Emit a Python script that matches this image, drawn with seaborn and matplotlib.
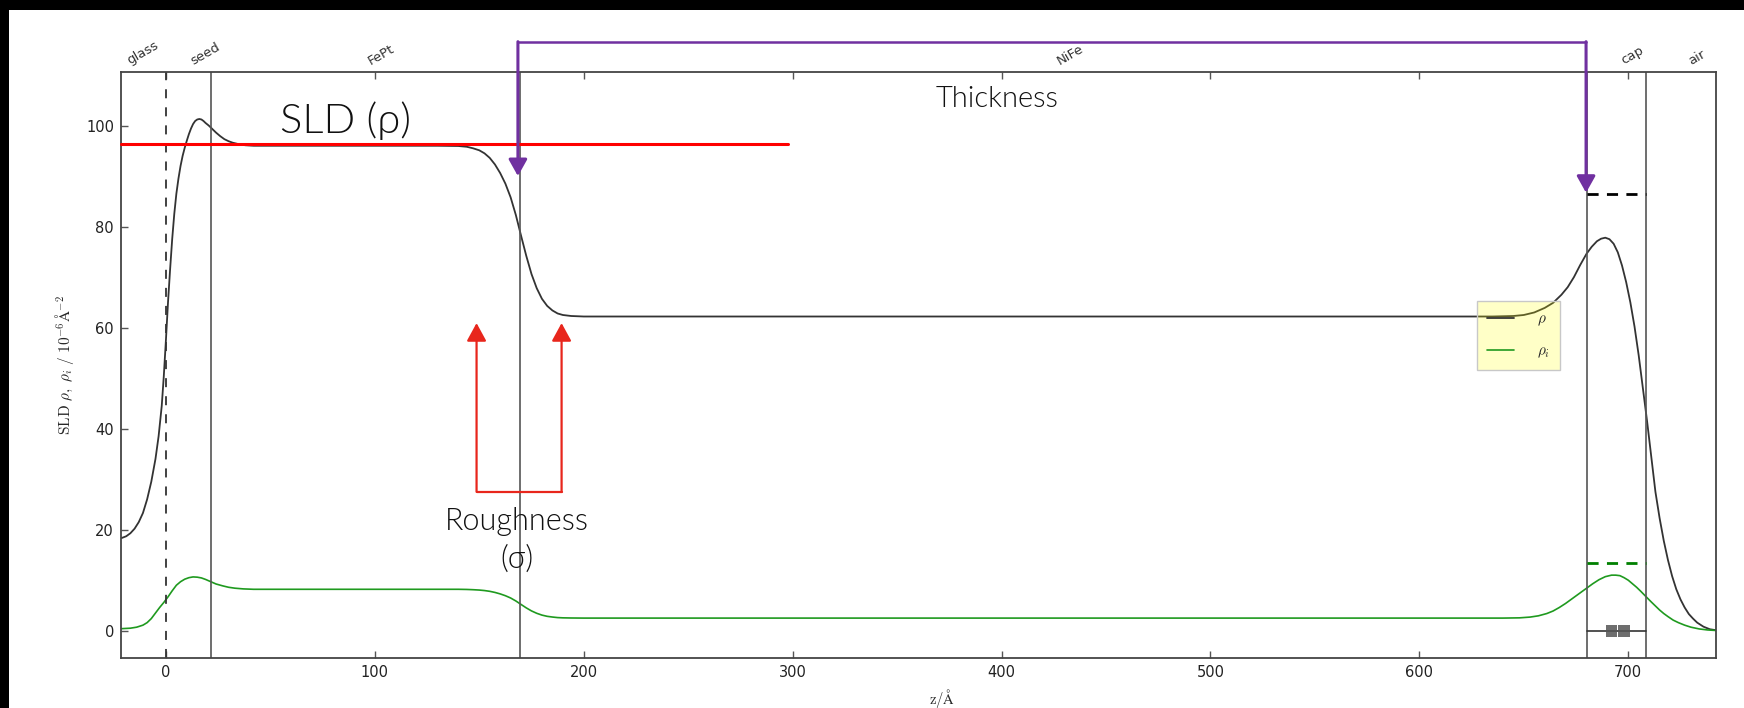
import numpy as np
import matplotlib
matplotlib.use("Agg")
import matplotlib.pyplot as plt
from matplotlib.patches import Rectangle
import seaborn as sns

# ---- data ----
layer_names = ['glass', 'seed', 'FePt', 'NiFe', 'cap', 'air']
layer_label_x = [-11, 19, 103, 433, 702, 733]
interface_dashed = [0]
interface_solid = [21.5, 169.7, 680.2, 708.6]

rho_z = [-21.5, -19, -17, -15, -13, -11, -9, -7, -5, -3.5, -2, -1, 0, 1, 2, 3, 4, 5, 6, 7,
         8, 9, 10, 11, 12, 13, 14, 15, 16, 17, 18, 19, 20.5, 22, 24, 26, 28, 30, 32, 35,
         38, 42, 130, 140, 144, 147, 150, 152.5, 155, 157.5, 160, 162.5, 165, 167.5, 170,
         172.5, 175, 177.5, 180, 182.5, 185, 187.5, 190, 194, 200, 635, 645, 650, 655,
         660, 664, 668, 671, 674, 677, 680, 682.5, 685, 687, 689, 691, 693, 695, 697, 699,
         701, 703, 705, 707, 709, 711, 713, 715, 717, 719, 721, 723, 725, 727, 729, 731,
         733, 736, 739, 742]
rho = [18.3, 18.7, 19.3, 20.2, 21.5, 23.3, 26.0, 29.5, 34.0, 38.5, 44.5, 50.5, 57.5, 65.0,
       71.5, 77.5, 82.5, 86.5, 89.5, 92.0, 94.0, 95.6, 97.0, 98.3, 99.4, 100.3, 100.9,
       101.2, 101.3, 101.2, 100.9, 100.5, 100.0, 99.4, 98.6, 97.9, 97.3, 96.9, 96.6, 96.3,
       96.1, 96.0, 96.0, 95.95, 95.8, 95.5, 95.1, 94.5, 93.6, 92.3, 90.6, 88.5, 85.8, 82.3,
       78.2, 74.2, 70.6, 67.8, 65.7, 64.3, 63.4, 62.8, 62.5, 62.3, 62.2, 62.2, 62.3, 62.5,
       63.0, 63.9, 64.9, 66.5, 68.0, 70.0, 72.4, 74.6, 76.0, 77.1, 77.6, 77.8, 77.5, 76.6,
       74.9, 72.3, 69.0, 65.0, 60.2, 54.5, 48.0, 41.5, 34.5, 27.5, 22.3, 17.8, 14.0, 10.8,
       8.2, 6.2, 4.6, 3.3, 2.4, 1.6, 0.8, 0.3, 0.1]

rhoi_z = [-21.5, -17, -14, -11, -9, -7, -5, -3, -1, 1, 3, 5, 7, 9, 11, 13, 15, 17, 19,
          21.5, 24, 27, 30, 33, 37, 42, 130, 140, 144, 147, 150, 152.5, 155, 157.5, 160,
          162.5, 165, 167.5, 170, 172.5, 175, 177.5, 180, 182.5, 185, 187.5, 190, 194, 200,
          640, 648, 653, 657, 661, 664, 667, 670, 673, 676, 680, 683, 686, 689, 692, 694,
          696, 698, 700, 702, 704, 706, 708.6, 711, 713, 715, 717, 719, 721.5, 724, 727,
          730, 734, 738, 742]
rhoi = [0.4, 0.5, 0.7, 1.1, 1.6, 2.4, 3.5, 4.6, 5.6, 6.7, 7.9, 9.0, 9.7, 10.2, 10.5, 10.65,
        10.6, 10.45, 10.15, 9.7, 9.25, 8.9, 8.6, 8.42, 8.28, 8.2, 8.2, 8.2, 8.17, 8.12,
        8.05, 7.95, 7.8, 7.58, 7.29, 6.93, 6.48, 5.89, 5.2, 4.52, 3.92, 3.45, 3.09, 2.85,
        2.71, 2.6, 2.55, 2.52, 2.5, 2.5, 2.55, 2.7, 2.95, 3.4, 3.9, 4.6, 5.4, 6.3, 7.2,
        8.4, 9.3, 10.1, 10.7, 11.0, 11.0, 10.9, 10.5, 10.0, 9.3, 8.6, 7.8, 6.7, 5.7, 4.9,
        4.1, 3.4, 2.8, 2.1, 1.6, 1.1, 0.7, 0.35, 0.15, 0.05]

cap_span = [680.2, 708.6]
cap_rho_level = 86.4
cap_rhoi_level = 13.5
cap_marker_z = [692, 698]
cap_marker_v = [0, 0]

# annotation overlay (data coordinates)
sld_line_x = [-21.5, 298]
sld_line_y = 96.3
thick_x = [168.5, 679.8]
thick_top = 116.6
thick_tips = [90.0, 86.7]
rough_x = [148.7, 189.4]
rough_base = 27.5
rough_tip = 60.9

# ---- style ----
sns.set_style('ticks')
plt.rcParams['font.family'] = ['DejaVu Sans']
plt.rcParams['mathtext.fontset'] = 'cm'

fig = plt.figure(figsize=(17.44, 7.08), dpi=100, facecolor='black')
fig.add_artist(Rectangle((9 / 1744, 0), 1, 1 - 10 / 708, transform=fig.transFigure,
                         facecolor='white', edgecolor='none', zorder=-10))
ax = fig.add_axes([121 / 1744, 50 / 708, 1595 / 1744, 586 / 708])

sns.lineplot(x=rho_z, y=rho, ax=ax, color='#333333', lw=1.3, sort=False,
             estimator=None, label=r'$\rho$')
sns.lineplot(x=rhoi_z, y=rhoi, ax=ax, color='#1f9a1f', lw=1.2, sort=False,
             estimator=None, label=r'$\rho_i$')

for z in interface_dashed:
    ax.axvline(z, color='#333333', lw=1.3, ls=(0, (5, 5)))
for z in interface_solid:
    ax.axvline(z, color='#555555', lw=1.2)

ax.plot(cap_span, [cap_rho_level] * 2, color='black', lw=2, ls=(0, (4, 3)))
ax.plot(cap_span, [cap_rhoi_level] * 2, color='green', lw=2, ls=(0, (4, 3)))
ax.plot(cap_span, [0, 0], color='#333333', lw=1.2)
ax.scatter(cap_marker_z, cap_marker_v, marker='s', s=70, color='#555555', alpha=0.85,
           edgecolor='none', zorder=5)

ax.set_xlim(-21.5, 742)
ax.set_ylim(-5.4, 110.6)
ax.set_xticks([0, 100, 200, 300, 400, 500, 600, 700])
ax.set_yticks([0, 20, 40, 60, 80, 100])
ax.tick_params(direction='in', length=5, width=1, top=True, right=False,
               labelsize=10.5, labelcolor='#222222', color='#555555', pad=5)
for s in ax.spines.values():
    s.set_color('#444444')
    s.set_linewidth(1.3)

ax.set_xlabel(r'$\mathrm{z}/\mathrm{\AA}$', fontsize=10.5)
ax.set_ylabel(r'$\mathrm{SLD}\ \rho,\ \rho_i\ /\ 10^{-6}\mathrm{\AA}^{-2}$', fontsize=11)
ax.yaxis.set_label_coords(-0.028, 0.5)
ax.xaxis.set_label_coords(0.515, -0.05)

trans = ax.get_xaxis_transform()
for name, x in zip(layer_names, layer_label_x):
    ax.text(x, 1.008, name, transform=trans, rotation=30, ha='center', va='bottom',
            fontsize=9.5, color='#333333')

leg = ax.legend(loc='upper left', bbox_to_anchor=(0.850, 0.609), borderaxespad=0,
                fancybox=False, fontsize=11, handlelength=1.8, handletextpad=1.5,
                labelspacing=1.0, borderpad=0.65)
frame = leg.get_frame()
frame.set_alpha(None)
frame.set_facecolor((1, 1, 0, 0.22))
frame.set_edgecolor('#c8c8c8')
frame.set_linewidth(1.0)

# ---- overlay annotations ----
ann_font = dict(family=['Lato', 'DejaVu Sans'], color='#111111', fontweight=300)
red = '#e8261c'
purple = '#7030a0'
ax.plot(sld_line_x, [sld_line_y] * 2, color='red', lw=2.2, clip_on=False, zorder=6)
ax.text(85.8, 101, r'SLD (ρ)', fontsize=30, ha='center', va='center', **ann_font)

ax.plot(thick_x, [thick_top] * 2, color=purple, lw=1.8, clip_on=False, zorder=6)
for x, tip in zip(thick_x, thick_tips):
    ax.annotate('', xy=(x, tip), xytext=(x, thick_top), annotation_clip=False,
                arrowprops=dict(arrowstyle='-|>,head_length=0.5,head_width=0.28',
                                color=purple, lw=2.2, mutation_scale=20,
                                shrinkA=0, shrinkB=0), zorder=6)
ax.text(397.8, 105.3, 'Thickness', fontsize=21, ha='center', va='center', **ann_font)

ax.plot(rough_x, [rough_base] * 2, color=red, lw=1.6, zorder=6)
for x in rough_x:
    ax.annotate('', xy=(x, rough_tip), xytext=(x, rough_base),
                arrowprops=dict(arrowstyle='-|>,head_length=0.55,head_width=0.3',
                                color=red, lw=1.6, mutation_scale=20,
                                shrinkA=0, shrinkB=0), zorder=6)
ax.text(167.8, 21.6, 'Roughness', fontsize=22, ha='center', va='center', **ann_font)
ax.text(167.8, 14.2, '(σ)', fontsize=22, ha='center', va='center', **ann_font)

fig.savefig('out.png', dpi=100, facecolor=fig.get_facecolor())
